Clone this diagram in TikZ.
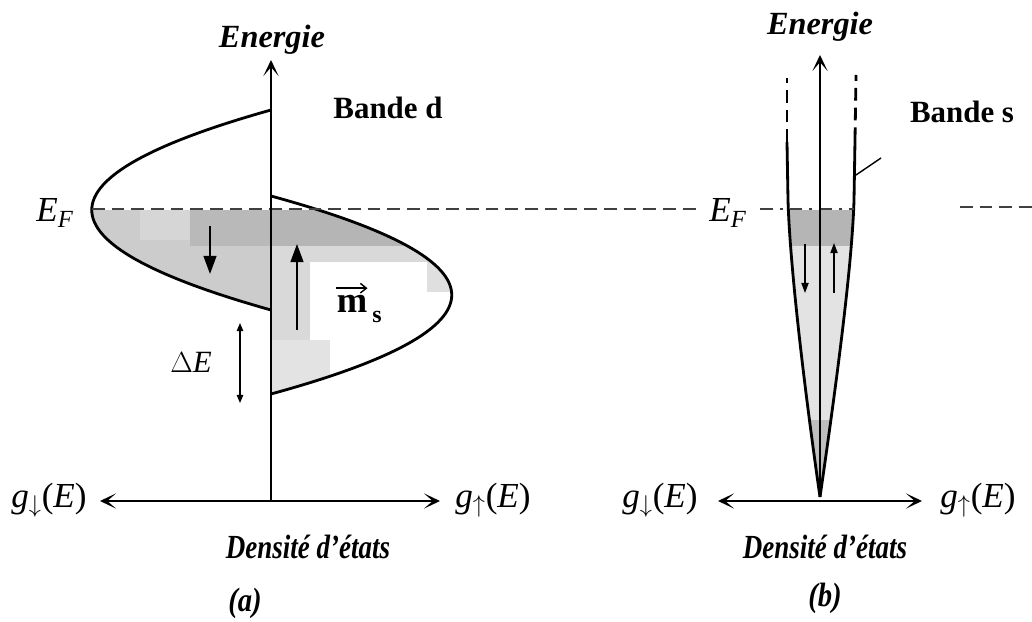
\documentclass[tikz,border=0pt]{standalone}
\usepackage{fontspec}
\setmainfont{Liberation Serif}
\usetikzlibrary{arrows.meta}

\tikzset{
  axis/.style={line width=1.1pt},
  lobe/.style={line width=2pt},
  wall/.style={line width=2pt},
  fermi/.style={line width=1.3pt,black!75,dash pattern=on 9pt off 5pt},
  spin/.style={line width=1.2pt,-{Triangle[length=4.5mm,width=3.2mm]}},
  spinb/.style={line width=0.9pt,-{Triangle[length=2.5mm,width=1.8mm]}},
  title/.style={font=\fontsize{23}{27}\selectfont\bfseries\itshape},
  band/.style={font=\fontsize{22}{26}\selectfont\bfseries},
  sym/.style={font=\fontsize{25}{28}\selectfont},
  cond/.style={font=\fontsize{24}{28}\selectfont\bfseries\itshape}
}
\newcommand{\dosg}[1]{\textit{g}$_{#1}$(\textit{E})}

\begin{document}
\begin{tikzpicture}[x=0.025cm,y=-0.025cm,>={Stealth[length=4mm,width=3.8mm,inset=2.2mm]}]
\useasboundingbox (0,0) rectangle (1032,622);

% (a) bande d
\coordinate (oa) at (271,501);
\coordinate (ta) at (271,60);
\coordinate (la) at (100,501);
\coordinate (ra) at (440,501);

\begin{scope}
  \clip (271,110) .. controls (32,177) and (32,243) .. (271,310) -- cycle;
  \fill[gray!40] (80,210) rectangle (272,320);
  \fill[gray!32] (140,210) rectangle (190,240);
  \fill[gray!55] (190,210) rectangle (272,246);
\end{scope}
\begin{scope}
  \clip (271,196) .. controls (512,262) and (512,328) .. (271,394) -- cycle;
  \fill[gray!58] (270,210) rectangle (405,246);
  \fill[gray!40] (405,210) rectangle (470,246);
  \fill[gray!30] (270,246) rectangle (470,262);
  \fill[gray!30] (270,262) rectangle (310,400);
  \fill[gray!22] (270,340) rectangle (330,400);
  \fill[gray!25] (427,262) rectangle (470,292);
\end{scope}

\draw[lobe] (271,110) .. controls (32,177) and (32,243) .. (271,310);
\draw[lobe] (271,196) .. controls (512,262) and (512,328) .. (271,394);
\draw[fermi] (92,209) -- (697,209);
\draw[axis,->] (oa) -- (ta);
\draw[axis,<->] (la) -- (ra);

\coordinate (da1) at (210,226);
\coordinate (da2) at (210,274);
\draw[spin] (da1) -- (da2);
\coordinate (ua1) at (297,330);
\coordinate (ua2) at (297,244);
\draw[spin] (ua1) -- (ua2);
\coordinate (de1) at (240,323);
\coordinate (de2) at (240,403);
\draw[line width=0.9pt,{Triangle[length=2mm,width=1.6mm]}-{Triangle[length=2mm,width=1.6mm]}] (de1) -- (de2);

\node[title] (enera) at (272,40) {Energie};
\node[band] (banded) at (388,108) {Bande d};
\node[sym] (efa) at (55,213) {\textit{E}\textsubscript{\textit{F}}};
\node[font=\fontsize{26}{28}\selectfont\bfseries,inner sep=0pt,anchor=south] (ms) at (352,313) {m};
\node[font=\fontsize{17}{20}\selectfont\bfseries,inner sep=0pt,anchor=south west] (mss) at (372,323) {s};
\coordinate (msa1) at ([yshift=5pt]ms.north west);
\coordinate (msa2) at ([yshift=5pt]ms.north east);
\draw[line width=1pt,-{Straight Barb[length=1.5mm,width=2.4mm]}] (msa1) -- (msa2);
\node[font=\fontsize{22}{26}\selectfont] (de) at (191,362) {$\Delta$\textit{E}};
\node[sym] (gda) at (49,500) {\dosg{\downarrow}};
\node[sym] (gua) at (493,500) {\dosg{\uparrow}};
\node[cond] (dosa) at (308,547) {\scalebox{0.8}[1]{Densité d'états}};
\node[cond] (laba) at (245,603) {\scalebox{0.85}[1]{(a)}};

% (b) bande s
\coordinate (ob) at (820,497);
\coordinate (tb) at (820,55);
\coordinate (lb) at (718,501);
\coordinate (rb) at (922,501);

\begin{scope}
  \clip (ob) .. controls (806,400) and (790,270) .. (788,200) -- (854,200)
    .. controls (852,270) and (834,400) .. (ob) -- cycle;
  \fill[gray!58] (780,210) rectangle (860,246);
  \fill[gray!22] (780,246) rectangle (860,420);
  \fill[gray!50] (780,420) rectangle (860,500);
\end{scope}

\draw[wall] (ob) .. controls (806,400) and (790,270) .. (788,200) -- (787,142);
\draw[wall,dash pattern=on 9pt off 5pt] (787,142) -- (787,78);
\draw[wall] (ob) .. controls (834,400) and (852,270) .. (854,200) -- (855,140);
\draw[wall,dash pattern=on 9pt off 5pt] (855,140) -- (856,75);
\coordinate (ps1) at (856,175);
\coordinate (ps2) at (881,158);
\draw[line width=1pt] (ps1) -- (ps2);
\draw[fermi] (683,209) -- (696,209);
\draw[fermi,dash pattern=on 9pt off 5pt on 2pt off 5pt] (760,209) -- (854,209);
\draw[fermi] (960,207) -- (1032,207);
\draw[axis,->] (ob) -- (tb);
\draw[axis,<->] (lb) -- (rb);

\coordinate (db1) at (805,244);
\coordinate (db2) at (805,293);
\draw[spinb] (db1) -- (db2);
\coordinate (ub1) at (834,293);
\coordinate (ub2) at (834,243);
\draw[spinb] (ub1) -- (ub2);

\node[title] (enerb) at (820,27) {Energie};
\node[band] (bandes) at (962,112) {Bande s};
\node[sym] (efb) at (728,213) {\textit{E}\textsubscript{\textit{F}}};
\node[sym] (gdb) at (660,500) {\dosg{\downarrow}};
\node[sym] (gub) at (978,500) {\dosg{\uparrow}};
\node[cond] (dosb) at (825,547) {\scalebox{0.8}[1]{Densité d'états}};
\node[cond] (labb) at (825,598) {\scalebox{0.85}[1]{(b)}};
\end{tikzpicture}
\end{document}
